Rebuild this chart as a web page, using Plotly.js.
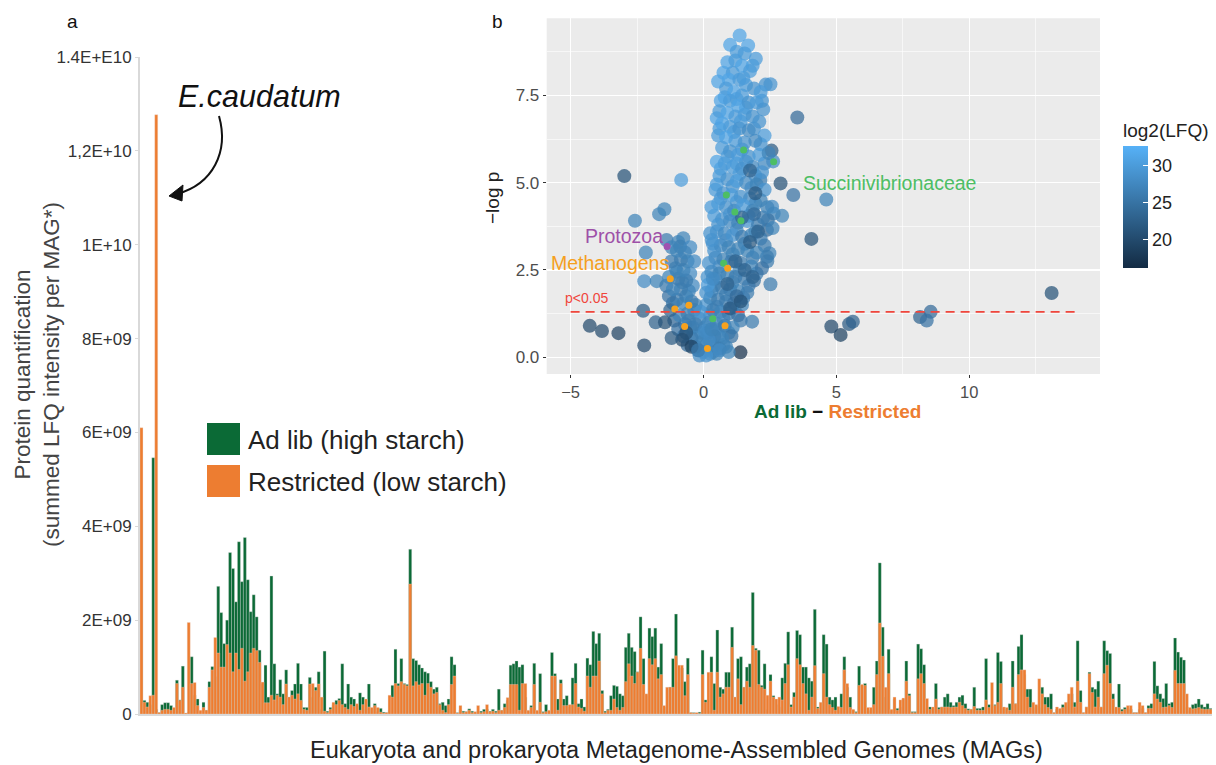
<!DOCTYPE html>
<html><head><meta charset="utf-8">
<script src="https://cdn.plot.ly/plotly-3.0.1.min.js"></script>
<style>body{margin:0;background:#fff}#chart{width:1216px;height:765px}</style>
</head><body><div id="chart"></div>
<script>
// ---------- Panel a : summed LFQ intensity per MAG (units of 1E+08) ----------
const adLib = [43.5,2.9,2.5,2,54.6,1,0.3,2,2.4,2.4,1.8,0.5,7.2,3,10.2,0.2,0.3,12.2,4,3.2,0.5,2.5,0.8,6.9,10.1,8,27.2,21.6,15,20,34.4,31,23.9,36.7,28.2,37.6,28.6,21.8,25.4,20.7,13.6,6.4,10.4,3.6,29.4,10.7,4.3,7.3,4.3,9.4,3.6,5,6.4,10.8,6.4,1.4,1.4,7.8,3.6,5.7,9,1,13.4,0.6,1.4,2,2.9,3.3,10.7,2.2,6.4,
3.6,3.2,1.8,4.5,3.6,1,6.4,1,2.2,0.5,1.2,0.4,0.3,0.8,6.1,13.8,6.5,11.8,6.5,6.3,35.1,11.8,11.4,10.5,9.8,9,8.7,6.9,5.3,5.7,2.2,2.5,1.8,3.2,12.2,10.5,0.3,0.8,0.6,0.5,1.1,0.6,0.3,0.5,0.6,1,1,0.6,1,0.6,5.3,0.8,2.2,2.9,10.4,10.7,11.3,10,10.5,3.6,0.6,1.8,10.8,0.5,8.6,0.5,2,0.5,13.1,8.6,3.2,7.3,3.2,
3.9,1.5,7.7,10.8,2.2,3.2,1.5,11.9,10.5,17.6,15,17.2,5,0.6,1,3.9,6.1,5.9,4.3,3.9,14.2,17.2,14.2,13.3,9,20.7,11.8,4,18.3,16.5,18.3,10,15,1.5,0.5,5.7,11.8,21.3,6.9,9.8,6.9,11.9,0.3,0.3,0.2,0.4,13.6,3,0.6,12.2,6.5,17.9,5.7,5.3,8.9,8.9,18.5,3.6,11.8,12.2,5.7,10,10.7,25.9,14,13.6,6.1,10.7,1,8.4,3.9,2,
1.5,7.7,10.8,17.5,2,4.6,17.8,16.9,10,10,7.7,7,22.3,1.5,0.8,16.9,14.9,3.6,3,3.6,0.8,4.3,12.2,5.7,3.6,0.8,0.5,10.2,6.1,6.5,0.6,0.8,5.7,11.3,32.2,18.5,3.6,13.8,0.8,3.2,1.2,1.5,3.2,11.3,4.3,0.5,0.5,14.9,13.9,10.5,1.4,1.5,1,6.5,1.4,1.5,3.6,4.3,2.5,1.8,2.5,3.6,4,2.2,1.1,1,5.7,1.2,1.2,1.5,11.8,2,
1,2,13.1,11.2,1.4,1,2.2,11.3,2.2,14.4,16.9,8.4,5.3,5.3,1.4,1.8,1.4,5.7,3.6,3.6,4.3,0.3,1,1,2,1.8,2.5,4.3,2.5,15.6,5,0.3,1.5,8.9,5.7,5.3,7,1.5,15.6,13.5,12.9,4.3,1,6.4,1,1.4,1.2,1,0.3,0.3,1,1.2,0.3,1.8,2.2,11.2,6,4.3,3.3,6.5,2.2,2.5,16.2,13.2,12.1,11.5,1.5,0.8,2,2.2,3.2,2,1.5,2.2,1.2];
const restricted = [61,2.5,1.5,3.9,4,127.7,0.3,0.8,1,1,0.8,1.4,6.5,2.9,5.7,0.2,19.5,6.5,6.7,1.8,0.8,1.4,0.8,5.7,9.4,16.3,13,10,10,14.8,13,9,13,9.5,14,7,9,13,14,13.5,11,6.8,2.4,2.4,4,3,4,3.6,2,6.4,3.6,4,3.2,4.3,2.9,1,0.8,6.4,6.5,5,6.4,3.6,0.6,0.3,1,2.5,2,2.9,2,1.4,1,
2,1.6,2.2,0.8,2,3.2,1.5,1.4,1.8,1.4,0.4,0.2,0.3,4,3.6,6.5,6,6.9,6.3,6,27.7,6,6.9,6.2,6.5,4,6.5,5.7,4.3,4.6,2,0.8,0.3,2,6.3,8.1,0.2,1.8,0.3,0.5,0.8,0.3,0.5,1.8,0.3,0.5,2,0.5,0.6,0.3,0.8,0.8,1.4,3.5,6.3,6.3,6.3,0.8,6.5,6.5,0.8,1.4,6.3,0.8,2.5,0.3,0.5,0.8,8.1,8.1,0.8,6.5,1.8,
1.8,2,2,6.5,1.5,1.2,0.6,8.1,5.7,8.1,8.1,11.3,4.3,0.3,0.8,0.8,3.2,1.4,0.8,1.4,6.9,10.7,8.1,6.5,8.9,14,6.3,4.3,11.8,10.5,11.8,7.5,8.4,1.8,5.7,5.7,5.7,12.4,10.4,10.4,3.9,8.4,0.3,0.2,0.3,0.1,8.4,2.5,8.9,8.9,0.8,8.9,3.6,4.3,5.7,5.7,14.2,3.6,7.5,2,5.7,7,5.7,14.6,13.6,6.3,5.7,5.3,4,7,3.6,3.2,
3.6,3,6.5,10.5,1.5,3.6,11.8,10.5,6.5,4.3,0.8,3.6,10.3,1.2,2.5,8.6,3.6,2,1.4,0.8,1.6,1.4,9.4,6.5,1.4,1,0.3,6.1,6.3,6.1,1.4,1.4,2,8.4,19.4,12.3,5.7,8.6,1,3.6,0.8,3,3.4,7,3.9,0.3,0.3,7.5,8.6,6.5,3.3,1,1.5,3.2,1,1.5,1.5,1.5,1.4,1.5,1.5,2.5,1.8,1.2,0.8,1,1.6,0.8,0.8,0.8,3,1.4,
6.7,1.8,2.5,6.5,1.5,1.4,0.8,5.7,2.2,8.4,9.4,9.4,3.6,1.4,2.5,2,7.5,4.3,2,1.4,1,0.3,1.5,1.2,1.4,2.5,4.3,5.7,1.5,7,2.5,0.3,1.5,8.6,4.6,1.5,3.6,1.5,8.6,10.4,6.5,3.2,1.5,1.4,0.6,1,1.8,1.8,0.3,0.3,2.5,1.8,0.3,1.2,1.2,4.3,3.2,2.5,1.4,1.5,1.8,1.4,9.3,6.5,6.5,6.5,4.3,1.4,1.1,1.2,1.4,1.1,1,1,1];
const yTickVals = [0,20,40,60,80,100,120,140];
const yTickText = ['0','2E+09','4E+09','6E+09','8E+09','1E+10','1,2E+10','1.4E+E10'];
const seriesNames = ['Ad lib (high starch)','Restricted (low starch)'];

// ---------- Panel b : volcano plot (difference, -log p, log2 LFQ) ----------
const volcDiff = [-2.98,-0.84,-1.47,-1.67,-2.58,-4.28,-3.82,-3.2,-2.23,-2.27,-2.17,-2.23,-1.76,-1.8,-1.39,-0.76,-0.88,3.53,4.62,3.38,2.9,4.06,2.52,2.34,2.56,2.62,2.52,2.48,1.39,1.83,2.96,2.64,2.58,2.39,2.42,4.81,5.16,5.48,5.62,8.15,8.55,8.4,13.1,2.14,2.39,
0.55,1.5,1.85,0.8,1.25,1.6,2.2,0.5,1.4,1.9,0.6,1.15,2.15,1.45,0.9,1.25,1.6,2.3,0.65,1.95,1.35,0.5,1.1,1.8,0.65,1.25,1.95,0.3,1.0,1.7,2.25,0.55,1.25,1.95,0.25,0.85,1.55,2.3,0.4,1.1,1.85,0.2,0.6,1.35,2.0,0.45,1.1,1.7,0.15,0.3,0.85,1.5,0.1,0.5,1.05,0.25,0.75,1.4,0.05,0.45,0.95,0.25,0.75,-0.1,-0.2,0.35,0.6,-0.4,-0.15,-0.55,-0.3,-0.65,-0.4,-1.0,-0.5,-0.8,-1.15,-1.4,-0.6,-0.95,-0.5,-1.2,-0.35,
1.36,1.0,1.68,1.25,1.55,1.97,0.9,1.2,1.45,0.75,1.1,1.75,0.95,1.35,1.6,1.9,2.15,0.85,1.15,1.45,0.65,1.0,1.3,1.7,2.0,2.25,0.6,0.9,1.2,1.55,1.85,2.1,0.7,1.0,1.35,1.7,2.3,0.55,0.85,1.2,1.55,1.95,0.7,1.0,1.3,1.7,2.1,2.45,0.5,0.8,1.1,1.45,1.85,2.2,0.6,0.9,1.25,1.6,2.0,2.3,0.45,0.75,1.05,1.4,1.75,2.15,0.55,0.85,1.15,1.5,1.85,2.4,0.4,0.7,1.0,1.3,1.65,2.05,2.6,0.5,0.8,1.1,1.45,1.8,2.15,0.35,0.65,0.95,1.3,1.65,2.0,2.4,0.45,0.75,1.05,1.4,1.8,2.2,0.3,0.6,0.9,1.2,1.55,1.9,0.4,0.7,1.0,1.3,1.65,0.25,0.55,0.85,1.15,1.45,1.25,0.35,0.65,0.95,1.3,0.2,0.5,0.8,1.1,1.05,0.15,0.4,0.7,0.1,0.35,0.6,0.85,0.0,0.25,0.5,-0.15,0.1,-0.3,-0.05,0.2,-0.25,-0.45,-0.6,-0.75,-0.5,-0.3,-0.7,-0.95,-1.1,-0.9,-0.6,-0.35,-1.25,-0.45,-0.75,-1.0,-1.3,-0.55,-0.85,-1.15,-0.65,-0.95,-1.3,-0.75,-1.05,-0.85,-1.2,-0.7,-1.0,-0.8,-0.45,-0.65,-1.45,-1.2,0.16,0.1,-0.1,0.31,0.35,1.55,1.75,1.85,1.4,1.0,0.9,1.2,1.45,1.95,1.75,1.9,2.05,0.05,0.3,-0.2,0.6,0.95];
const volcLogP = [5.19,5.08,4.24,4.10,3.91,0.9,0.75,0.69,0.34,1.33,3.0,2.18,2.18,1.0,3.36,3.41,3.17,6.87,4.52,4.65,4.98,3.39,7.82,7.81,5.92,5.61,2.09,2.98,0.14,1.02,4.05,4.12,4.31,3.65,3.93,0.88,0.64,0.95,1.02,1.15,1.3,1.05,1.84,5.08,2.88,
7.9,8.0,8.35,7.45,7.4,7.15,7.35,6.85,6.75,6.55,6.55,6.45,6.1,5.95,5.75,5.55,5.6,5.55,5.4,5.2,5.25,4.95,4.9,4.85,4.55,4.45,4.4,4.3,4.1,4.05,4.0,3.8,3.65,3.6,3.55,3.35,3.25,3.2,3.05,2.95,2.85,2.7,2.6,2.5,2.4,2.25,2.15,2.05,2.3,1.9,1.8,1.7,1.5,1.45,1.4,1.2,1.1,1.05,0.85,0.8,0.7,0.45,0.35,0.7,0.2,0.15,0.6,0.85,1.1,1.05,1.5,1.75,2.05,2.45,2.4,2.15,1.55,2.05,2.75,3.3,3.15,3.15,2.75,
9.22,8.95,8.93,8.75,8.7,8.55,8.45,8.5,8.35,8.15,8.15,8.2,7.95,7.95,7.8,7.7,7.6,7.7,7.6,7.5,7.35,7.35,7.2,7.3,7.3,7.1,7.05,7.0,6.9,6.95,6.9,6.75,6.7,6.6,6.55,6.5,6.35,6.35,6.3,6.2,6.15,6.2,6.0,5.9,5.8,5.75,5.8,5.85,5.6,5.55,5.45,5.4,5.45,5.3,5.2,5.1,5.05,5.0,4.95,4.8,4.8,4.7,4.65,4.6,4.55,4.5,4.4,4.3,4.2,4.35,4.2,4.3,4.05,3.95,3.9,3.85,3.9,3.8,3.7,3.6,3.55,3.5,3.45,3.5,3.4,3.25,3.2,3.15,3.1,3.05,3.0,2.75,2.85,2.8,2.75,2.7,2.6,2.55,2.45,2.4,2.35,2.3,2.25,2.2,2.05,2.0,1.95,1.9,1.85,1.7,1.65,1.6,1.55,1.5,1.75,1.35,1.3,1.25,1.2,1.0,0.95,0.9,0.85,0.6,0.7,0.6,0.55,0.35,0.3,0.25,0.3,0.15,0.1,0.1,0.05,0.05,0.3,0.45,0.5,0.6,0.55,0.35,0.6,0.85,0.95,0.95,0.8,1.05,1.2,1.25,1.35,1.35,1.6,1.55,1.65,1.75,1.9,1.95,1.95,2.2,2.25,2.3,2.5,2.55,2.8,2.75,3.0,3.05,0.5,0.3,0.7,1.0,0.55,2.07,1.85,1.3,3.36,2.25,2.5,3.3,2.3,1.6,1.4,2.1,2.75,4.0,4.7,5.35,4.1,3.6,0.75,0.8,0.2,0.2,0.15];
const volcLFQ = [21,30,27,27,27,20,20,19,20,22,27,28,27,23,26,27,25,24,27,25,21,21,29,29,22,28,26,27,17,26,27,27,28,24,25,20,19,22,23,23,24,25,21,26,26,
31,30,30,31,30,30,29,31,30,29,30,30,29,29,30,30,29,28,30,28,30,30,29,28,29,29,27,30,29,28,26,29,28,27,29,28,27,26,29,27,26,29,28,27,26,28,27,26,29,28,27,26,29,28,27,29,28,26,29,28,27,29,28,28,29,29,28,27,28,27,27,27,28,27,28,27,26,26,27,27,28,27,28,
31,31,31,30,30,30,31,30,31,31,30,30,31,30,30,29,30,30,31,30,31,30,31,29,30,29,30,31,30,30,29,29,31,30,29,28,30,30,31,30,29,28,30,29,30,29,30,27,31,30,30,29,28,29,30,29,30,28,27,29,30,29,30,29,28,27,30,29,28,30,27,27,30,29,28,27,29,26,27,29,28,29,26,27,26,29,28,27,27,27,27,26,28,27,26,26,27,25,28,27,27,26,26,25,27,26,26,27,26,27,26,26,25,27,24,26,27,26,25,27,27,26,27,25,28,26,27,28,27,26,27,29,28,27,28,29,26,27,28,27,26,24,25,27,26,26,25,24,27,26,27,23,26,27,26,25,27,26,27,26,26,27,27,27,26,26,27,27,20,19,21,21,22,30,29,29,29,28,23,22,23,21,22,23,23,23,22,23,24,23,28,27,26,28,27];
const succDiff = [1.51,2.64,0.86,1.18,1.41,0.76,0.35];
const succLogP = [5.94,5.6,4.65,4.16,3.91,2.69,1.1];
const methDiff = [0.91,-1.25,-1.08,-0.55,-0.71,0.81,0.15];
const methLogP = [2.55,2.25,1.38,1.49,0.88,0.9,0.25];
const protoDiff = [-1.37];
const protoLogP = [3.17];
const pThreshold = 1.3;

// ---------- helpers (layout geometry in figure pixels) ----------
const W = 1216, H = 765;
const PX = x => x / W, PY = y => 1 - y / H;
const P = (x, y) => (x / W).toFixed(5) + ',' + (1 - y / H).toFixed(5);
const FONT = 'Arial, "Liberation Sans", sans-serif';
const GREEN = '#0B6A36', ORANGE = '#ED7D31';

const idx = adLib.map((_, i) => i + 1);

const traces = [
  {type:'bar', name:seriesNames[0], x:idx, y:adLib, xaxis:'x', yaxis:'y',
   marker:{color:GREEN, line:{color:'rgba(215,215,215,0.8)', width:0.4}}, showlegend:false, hoverinfo:'y'},
  {type:'bar', name:seriesNames[1], x:idx, y:restricted, xaxis:'x', yaxis:'y',
   marker:{color:ORANGE, line:{color:'rgba(235,215,200,0.8)', width:0.4}}, showlegend:false, hoverinfo:'y'},
  {type:'scatter', mode:'markers', x:volcDiff, y:volcLogP, xaxis:'x2', yaxis:'y2', showlegend:false,
   marker:{size:14, color:volcLFQ, colorscale:[[0,'#132B43'],[1,'#56B1F7']], cmin:16.2, cmax:32.7, opacity:0.72,
     line:{width:0},
     colorbar:{x:PX(1123), xanchor:'left', y:PY(268), yanchor:'bottom', len:148, lenmode:'pixels',
       thickness:25, thicknessmode:'pixels', outlinewidth:0, xpad:0, ypad:0,
       tickmode:'array', tickvals:[20,25,30], ticks:'inside', ticklen:5, tickcolor:'#ffffff',
       tickfont:{family:FONT, size:18, color:'#222'},
       title:{text:'log2(LFQ)', side:'top', font:{family:FONT, size:19, color:'#222'}}}}},
  {type:'scatter', mode:'markers', name:'Succinivibrionaceae', x:succDiff, y:succLogP, xaxis:'x2', yaxis:'y2', showlegend:false,
   marker:{size:7, color:'#4DBE64'}},
  {type:'scatter', mode:'markers', name:'Methanogens', x:methDiff, y:methLogP, xaxis:'x2', yaxis:'y2', showlegend:false,
   marker:{size:7, color:'#F7A21E'}},
  {type:'scatter', mode:'markers', name:'Protozoa', x:protoDiff, y:protoLogP, xaxis:'x2', yaxis:'y2', showlegend:false,
   marker:{size:7, color:'#A052B0'}}
];

const shapes = [
  {type:'rect', xref:'x2 domain', yref:'y2 domain', x0:0, x1:1, y0:0, y1:1, fillcolor:'#EBEBEB', line:{width:0}, layer:'below'},
  {type:'line', xref:'x2', yref:'y2', x0:-5, x1:14.1, y0:pThreshold, y1:pThreshold, line:{color:'#F0463C', width:1.6, dash:'9px,6px'}, layer:'above'},
  {type:'rect', xref:'paper', yref:'paper', x0:PX(207), x1:PX(240), y0:PY(455), y1:PY(423), fillcolor:GREEN, line:{width:0}},
  {type:'rect', xref:'paper', yref:'paper', x0:PX(207), x1:PX(240), y0:PY(497), y1:PY(465), fillcolor:ORANGE, line:{width:0}},
  {type:'path', xref:'paper', yref:'paper', path:'M '+P(219,116)+' C '+P(229,152)+' '+P(213,184)+' '+P(177,194), line:{color:'#111', width:2}},
  {type:'path', xref:'paper', yref:'paper', path:'M '+P(169,196)+' L '+P(183,185)+' L '+P(182,201)+' Z', fillcolor:'#111', line:{color:'#111', width:1}}
];

const ann = (x, y, text, opts) => Object.assign({xref:'paper', yref:'paper', x:PX(x), y:PY(y), text:text, showarrow:false,
  xanchor:'center', yanchor:'middle', font:{family:FONT, size:15, color:'#222'}}, opts || {});

const annotations = [
  ann(72, 21, 'a', {font:{family:FONT, size:19, color:'#111'}}),
  ann(497, 21, 'b', {font:{family:FONT, size:19, color:'#111'}}),
  ann(259, 96, '<i>E.caudatum</i>', {font:{family:FONT, size:30.5, color:'#111'}}),
  ann(246, 440, seriesNames[0], {xanchor:'left', font:{family:FONT, size:26, color:'#222'}}),
  ann(246, 482, seriesNames[1], {xanchor:'left', font:{family:FONT, size:26, color:'#222'}}),
  ann(37, 375, 'Protein quantification<br>(summed LFQ intensity per MAG*)', {textangle:-90, font:{family:FONT, size:22.5, color:'#444'}}),
  ann(676, 750, 'Eukaryota and prokaryota Metagenome-Assembled Genomes (MAGs)', {font:{family:FONT, size:23.5, color:'#222'}}),
  ann(493, 198, '\u2212log p', {textangle:-90, font:{family:FONT, size:19, color:'#222'}}),
  ann(837, 411, '<b><span style="color:'+GREEN+'">Ad lib</span> \u2212 <span style="color:'+ORANGE+'">Restricted</span></b>', {font:{family:FONT, size:19, color:'#111'}}),
  {xref:'x2', yref:'y2', x:-3.0, y:3.48, xanchor:'center', yanchor:'middle', text:'Protozoa', showarrow:false, font:{family:FONT, size:19.5, color:'#9E50A8'}},
  {xref:'x2', yref:'y2', x:-3.5, y:2.69, xanchor:'center', yanchor:'middle', text:'Methanogens', showarrow:false, font:{family:FONT, size:19.5, color:'#F5A01E'}},
  {xref:'x2', yref:'y2', x:3.68, y:4.98, xanchor:'left', yanchor:'middle', text:'Succinivibrionaceae', showarrow:false, font:{family:FONT, size:19.5, color:'#4DBE64'}},
  {xref:'x2', yref:'y2', x:-5.3, y:1.69, xanchor:'left', yanchor:'middle', text:'p&lt;0.05', showarrow:false, font:{family:FONT, size:14, color:'#F0463C'}}
];

const layout = {
  width:W, height:H, margin:{l:0, r:0, t:0, b:0}, paper_bgcolor:'#fff', plot_bgcolor:'rgba(0,0,0,0)',
  font:{family:FONT, color:'#222'}, showlegend:false, barmode:'overlay', bargap:0,
  xaxis:{domain:[PX(140), PX(1212)], range:[0.5, adLib.length + 0.5], anchor:'y', showticklabels:false, ticks:'',
    showline:true, linecolor:'#D9D9D9', linewidth:1.5, showgrid:false, zeroline:false},
  yaxis:{domain:[PY(714), PY(57)], range:[0,140], anchor:'x', tickmode:'array', tickvals:yTickVals, ticktext:yTickText,
    ticks:'outside', ticklen:3, tickcolor:'#D9D9D9', showline:true, linecolor:'#D9D9D9', linewidth:2,
    showgrid:false, zeroline:false, tickfont:{family:FONT, size:17, color:'#333'}},
  xaxis2:{domain:[PX(546.7), PX(1100)], range:[-5.9, 14.92], anchor:'y2', tickmode:'array', tickvals:[-5,0,5,10], ticks:'outside', ticklen:3,
    tickcolor:'#333', tickfont:{family:FONT, size:16.5, color:'#4D4D4D'}, showgrid:true, gridcolor:'#ffffff', gridwidth:1.3,
    minor:{tickmode:'array', tickvals:[-2.5,2.5,7.5,12.5], showgrid:true, gridcolor:'#ffffff', gridwidth:0.6}, zeroline:false, showline:false},
  yaxis2:{domain:[PY(374), PY(18.3)], range:[-0.48, 9.71], anchor:'x2', tickmode:'array', tickvals:[0,2.5,5,7.5], ticktext:['0.0','2.5','5.0','7.5'],
    ticks:'outside', ticklen:3, tickcolor:'#333', tickfont:{family:FONT, size:17, color:'#4D4D4D'}, showgrid:true, gridcolor:'#ffffff', gridwidth:1.3,
    minor:{tickmode:'array', tickvals:[1.25,3.75,6.25,8.75], showgrid:true, gridcolor:'#ffffff', gridwidth:0.6}, zeroline:false, showline:false},
  shapes:shapes, annotations:annotations
};

Plotly.newPlot('chart', traces, layout, {displayModeBar:false, staticPlot:true});
</script></body></html>
